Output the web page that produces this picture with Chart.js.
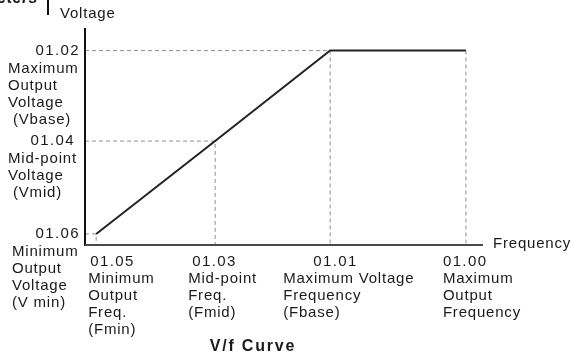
<!DOCTYPE html>
<html>
<head>
<meta charset="utf-8">
<script src="https://cdn.jsdelivr.net/npm/chart.js@4"></script>
<style>
  body { margin: 0; background: #fff; }
  canvas { display: block; }
</style>
</head>
<body>
<canvas id="vfChart" width="573" height="354"></canvas>
<script>
// V/f curve corner points (arbitrary units)
const freqPoints = [0.28, 3.27, 6.16, 9.57];   // Fmin, Fmid, Fbase, Fmax
const voltPoints = [0.51, 4.79, 8.96, 8.96];   // output voltage at each point
const freqCodes = ['01.05', '01.03', '01.01', '01.00'];
const freqNames = [
    ['Minimum', 'Output', 'Freq.', '(Fmin)'],
    ['Mid-point', 'Freq.', '(Fmid)'],
    ['Maximum Voltage', 'Frequency', '(Fbase)'],
    ['Maximum', 'Output', 'Frequency']
];
const voltCodes = ['01.06', '01.04', '01.02'];   // Vmin, Vmid, Vbase
const voltNames = [
    ['Minimum', 'Output', 'Voltage', '(V min)'],
    ['Mid-point', 'Voltage', '(Vmid)'],
    ['Maximum', 'Output', 'Voltage', '(Vbase)']
];

const FONT = '"Liberation Sans", Arial, sans-serif';
const TEXT_COLOR = '#1a1a1a';

// dashed helper lines from the axes to each corner point
let guides = [];
for (let i = 0; i < freqPoints.length; i++) {
    let pts = [];
    if (i < voltCodes.length) pts.push({x: 0, y: voltPoints[i]});
    pts.push({x: freqPoints[i], y: voltPoints[i]});
    pts.push({x: freqPoints[i], y: 0});
    guides.push({
        data: pts,
        borderColor: i == 3 ? '#b5b5b5' : '#8f8f8f',
        borderWidth: i == 3 ? 1.5 : 1,
        borderDash: [4, 3],
        pointRadius: 0,
        showLine: true,
        tension: 0
    });
}

function drawText(ctx, txt, x, y, align, font, spacing) {
    ctx.font = font;
    ctx.letterSpacing = spacing + 'px';
    ctx.textAlign = align;
    ctx.textBaseline = 'middle';
    ctx.fillStyle = TEXT_COLOR;
    ctx.fillText(txt, x, y);
}

const vfLabels = {
    id: 'vfLabels',
    afterDraw(chart) {
        let ctx = chart.ctx;
        let area = chart.chartArea;
        let xs = chart.scales.x, ys = chart.scales.y;
        ctx.save();

        // axes
        ctx.lineWidth = 2;
        ctx.strokeStyle = '#111';
        ctx.beginPath();
        ctx.moveTo(area.left, area.top);
        ctx.lineTo(area.left, area.bottom + 1);
        ctx.stroke();
        ctx.strokeStyle = '#4a4a4a';
        ctx.beginPath();
        ctx.moveTo(area.left, area.bottom);
        ctx.lineTo(area.right, area.bottom);
        ctx.stroke();

        let font = '15px ' + FONT;
        drawText(ctx, 'Voltage', 60, 14, 'left', font, 0.8);
        drawText(ctx, 'Frequency', area.right + 10, area.bottom - 1, 'left', font, 0.8);

        // voltage parameters on the left
        let nameLeft = [12, 8, 8];
        let codeRight = [80, 75, 80];
        voltCodes.forEach((code, i) => {
            let py = ys.getPixelForValue(voltPoints[i]);
            drawText(ctx, code, codeRight[i], py, 'right', font, 1.4);
            voltNames[i].forEach((line, j) => {
                let indent = (line[0] == '(' && i > 0) ? 5 : 0;
                drawText(ctx, line, nameLeft[i] + indent, py + 18 + j * 17, 'left', font, 0.8);
            });
        });

        // frequency parameters under the axis
        let codeOff = [-6, -23, -17, -23];
        let nameOff = [-8, -27, -47, -23];
        freqCodes.forEach((code, i) => {
            let px = xs.getPixelForValue(freqPoints[i]);
            let y0 = area.bottom + 17;
            drawText(ctx, code, px + codeOff[i], y0, 'left', font, 1.4);
            freqNames[i].forEach((line, j) => {
                drawText(ctx, line, px + nameOff[i], y0 + 17 + j * 17, 'left', font, 0.8);
            });
        });

        // title
        drawText(ctx, 'V/f Curve', 253, 347, 'center', 'bold 16px ' + FONT, 1.8);

        // clipped heading in the top left corner
        drawText(ctx, 'Parameters', 38, -1, 'right', 'italic bold 16px ' + FONT, 0.5);
        ctx.strokeStyle = '#111';
        ctx.lineWidth = 2;
        ctx.beginPath();
        ctx.moveTo(48, 0);
        ctx.lineTo(48, 15);
        ctx.stroke();
        ctx.restore();
    }
};

new Chart(document.getElementById('vfChart').getContext('2d'), {
    type: 'scatter',
    data: {
        datasets: [{
            data: freqPoints.map((f, i) => ({x: f, y: voltPoints[i]})),
            borderColor: '#222',
            borderWidth: 2,
            pointRadius: 0,
            showLine: true,
            tension: 0
        }].concat(guides)
    },
    options: {
        responsive: false,
        animation: false,
        devicePixelRatio: 1,
        layout: { padding: { left: 85, top: 28, right: 90, bottom: 109 } },
        scales: {
            x: { display: false, min: 0, max: 10 },
            y: { display: false, min: 0, max: 10 }
        },
        plugins: {
            legend: { display: false },
            tooltip: { enabled: false }
        }
    },
    plugins: [vfLabels]
});
</script>
</body>
</html>
